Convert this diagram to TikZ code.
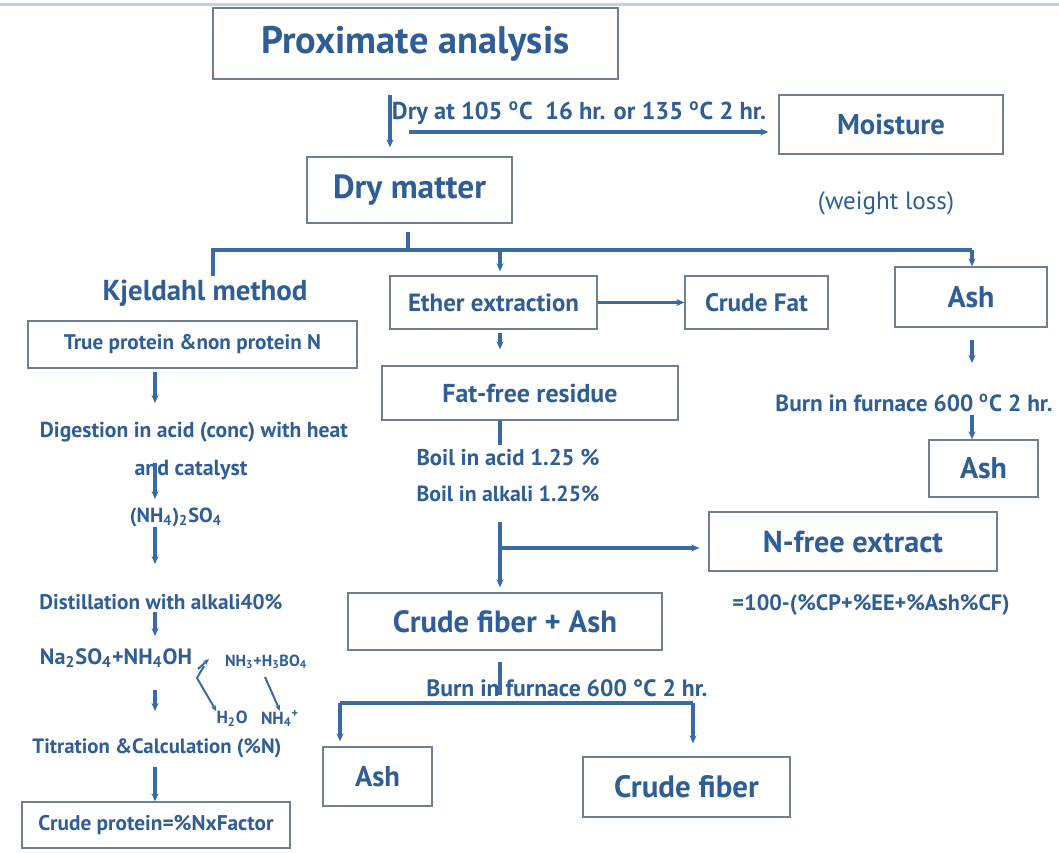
\documentclass[tikz,border=0pt]{standalone}
\usepackage{fontspec}
\setmainfont{PT Sans}
\usepackage{graphicx}
\usetikzlibrary{arrows.meta}
\definecolor{txt}{HTML}{2F5D95}
\definecolor{lnc}{HTML}{3A6AA6}
\definecolor{bd}{HTML}{6F7F92}
\definecolor{topline}{HTML}{BFD0E3}
\newcommand\fw[2]{\resizebox{#1pt}{!}{\bfseries #2}}
\newcommand\fwn[2]{\resizebox{#1pt}{!}{#2}}
\begin{document}
\begin{tikzpicture}[x=1pt,y=-1pt,
  boxn/.style={draw=bd, line width=1.3pt, inner sep=0pt, text=txt, fill=white},
  lab/.style={inner sep=0pt, text=txt},
  conn/.style={draw=lnc, line width=3.2pt},
  arr/.style={conn, -{Stealth[length=8pt,width=7pt]}},
  sarr/.style={draw=lnc, line width=2pt, -{Stealth[length=6pt,width=5pt]}}]
\useasboundingbox (0,0) rectangle (1059,852);
\draw[topline, line width=3pt] (0,4) -- (1059,4);

% boxes
\node[boxn, minimum width=405pt, minimum height=71pt] (prox) at (415.5,43.5) {\fw{308}{Proximate analysis}};
\node[boxn, minimum width=224pt, minimum height=59pt] (moist) at (891,124.5) {\fw{108}{Moisture}};
\node[boxn, minimum width=205pt, minimum height=66pt] (dry) at (409.5,190) {\fw{153}{Dry matter}};
\node[boxn, minimum width=329pt, minimum height=47pt] (tp) at (192.5,344.5) {\fw{257}{True protein \&non protein N}};
\node[boxn, minimum width=268pt, minimum height=46pt] (cp) at (156,825) {\fw{235}{Crude protein=\%NxFactor}};
\node[boxn, minimum width=207pt, minimum height=53pt] (ether) at (493.5,302.5) {\fw{171}{Ether extraction}};
\node[boxn, minimum width=143pt, minimum height=53pt] (cfat) at (756.5,302.5) {\fw{103}{Crude Fat}};
\node[boxn, minimum width=152pt, minimum height=60pt] (ash1) at (971,297) {\fw{47}{Ash}};
\node[boxn, minimum width=296pt, minimum height=54pt] (ffr) at (530,393) {\fw{175}{Fat-free residue}};
\node[boxn, minimum width=109pt, minimum height=57pt] (ash2) at (983.5,468.5) {\fw{47}{Ash}};
\node[boxn, minimum width=288pt, minimum height=59pt] (nfe) at (853,541.5) {\fw{180}{N-free extract}};
\node[boxn, minimum width=314pt, minimum height=57pt] (cfa) at (505,621.5) {\fw{224}{Crude fiber + Ash}};
\node[boxn, minimum width=109pt, minimum height=59pt] (ash3) at (377.5,776.5) {\fw{45}{Ash}};
\node[boxn, minimum width=207pt, minimum height=60pt] (cfib) at (686.5,787) {\fw{145}{Crude fiber}};

% labels
\node[lab] (dryat) at (579,113) {\fw{374}{Dry at 105 \textsuperscript{o}C~~16 hr. or 135 \textsuperscript{o}C 2 hr.}};
\node[lab] (wl) at (886,203) {\fwn{136}{(weight loss)}};
\node[lab] (kj) at (205,293) {\fw{205}{Kjeldahl method}};
\node[lab] (dig) at (194,432) {\fw{308}{Digestion in acid (conc) with heat}};
\node[lab] (cat) at (191,470) {\fw{113}{and catalyst}};
\node[lab] (ams) at (176,517) {\fw{92}{(NH\textsubscript{4})\textsubscript{2}SO\textsubscript{4}}};
\node[lab] (dis) at (161,602) {\fw{243}{Distillation with alkali40\%}};
\node[lab] (naso) at (116,658) {\fw{152}{Na\textsubscript{2}SO\textsubscript{4}+NH\textsubscript{4}OH}};
\node[lab] (nh3) at (266,662) {\fw{82}{NH\textsubscript{3}+H\textsubscript{3}BO\textsubscript{4}}};
\node[lab] (h2o) at (232,719) {\fw{31}{H\textsubscript{2}O}};
\node[lab] (nh4) at (280,719) {\fw{38}{NH\textsubscript{4}\textsuperscript{+}}};
\node[lab] (tit) at (157,748) {\fw{249}{Titration \&Calculation (\%N)}};
\node[lab] (b1) at (508,458) {\fw{183}{Boil in acid 1.25 \%}};
\node[lab] (b2) at (508,494) {\fw{183}{Boil in alkali 1.25\%}};
\node[lab] (burn1) at (914,403) {\fw{277}{Burn in furnace 600 \textsuperscript{o}C 2 hr.}};
\node[lab] (form) at (871,605) {\fw{277}{=100-(\%CP+\%EE+\%Ash\%CF)}};
\node[lab] (burn2) at (567,688) {\fw{281}{Burn in furnace 600 °C 2 hr.}};

% connectors
\coordinate (p0) at (390,95);
\draw[arr, shorten >=9pt] (p0) -- (p0 |- dry.north);
\coordinate (m0) at (409,132);
\draw[arr, shorten >=10pt] (m0) -- (m0 -| moist.west);
\coordinate (d0) at (408,232);
\coordinate (bus) at (408,250);
\draw[conn] (d0) -- (bus);
\coordinate (kjt) at (213,276);
\draw[conn] (kjt) -- (kjt |- bus) -- (972,250 |- bus);
\draw[arr, shorten >=4pt] (500,250) -- (500,250 |- ether.north);
\draw[arr] (972,250) -- (972,250 |- ash1.north);
\draw[arr] (ether.east) -- (cfat.west);
\coordinate (e0) at (500,333);
\draw[arr, shorten >=16pt] (e0) -- (e0 |- ffr.north);
\draw[conn] (500,420) -- (500,445);
\coordinate (f0) at (500,522);
\draw[arr, shorten >=5pt] (f0) -- (f0 |- cfa.north);
\coordinate (f1) at (500,548);
\draw[arr, shorten >=9pt] (f1) -- (f1 -| nfe.west);
\draw[conn] (500,662) -- (500,695);
\coordinate (l0) at (340,703);
\coordinate (r0) at (693,703);
\draw[conn] (l0) -- (r0);
\draw[arr, shorten >=5pt] (l0) -- (l0 |- ash3.north);
\draw[arr, shorten >=13pt] (r0) -- (r0 |- cfib.north);
% right column
\coordinate (a0) at (972,340);
\draw[arr, shorten >=2pt] (a0) -- (972,365);
\coordinate (a1) at (972,415);
\draw[arr] (a1) -- (a1 |- ash2.north);
% Kjeldahl column
\coordinate (k1) at (155,372);
\draw[arr] (k1) -- (155,403);
\coordinate (k2) at (155,463);
\draw[arr] (k2) -- (155,499);
\coordinate (k3) at (155,527);
\draw[arr] (k3) -- (155,564);
\coordinate (k4) at (155,612);
\draw[arr] (k4) -- (155,636);
\coordinate (k5) at (155,690);
\draw[arr] (k5) -- (155,711);
\coordinate (k6) at (155,767);
\draw[arr] (k6) -- (k6 |- cp.north);
% reaction branches
\draw[sarr] (198,669) -- (209,659);
\draw[sarr] (204,666) -- (197,678) -- (h2o.north west);
\draw[sarr] (265,677) -- (nh4.north);
\end{tikzpicture}
\end{document}
